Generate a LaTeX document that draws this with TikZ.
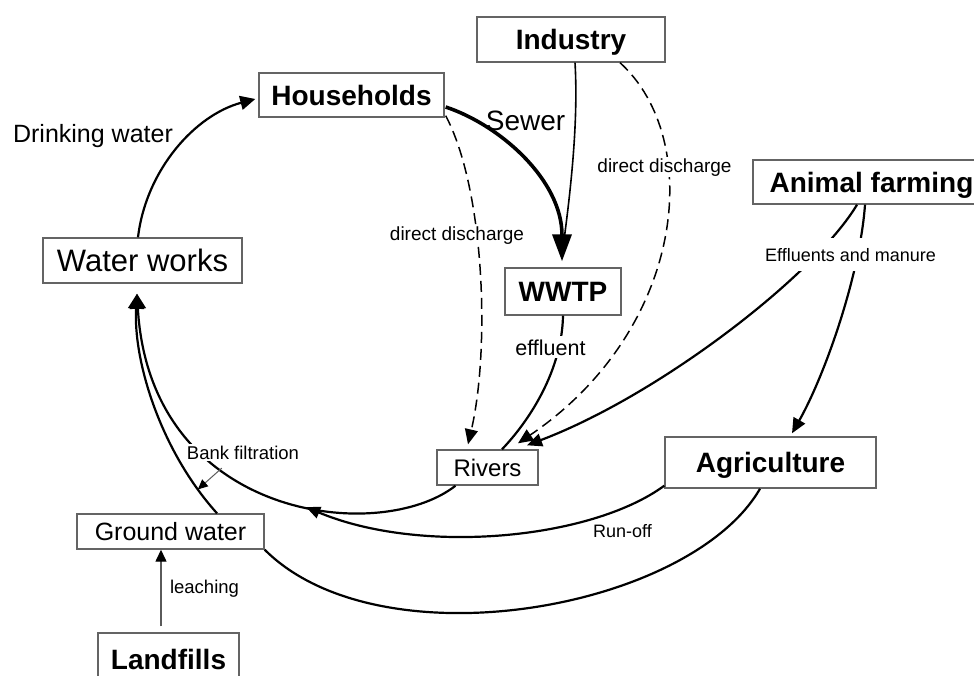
\documentclass[tikz,border=0pt]{standalone}
\usepackage{fontspec}
\setmainfont{Liberation Sans}
\usetikzlibrary{arrows.meta,calc}
\definecolor{boxgray}{RGB}{100,100,100}
\definecolor{leadgray}{RGB}{90,90,90}
\begin{document}
\begin{tikzpicture}[x=1pt,y=-1pt,
  box/.style={draw=boxgray,line width=1.4pt,inner sep=0pt,fill=white,text height=#1,text depth=0pt},
  bigb/.style={font=\fontsize{28}{32}\selectfont\bfseries},
  flow/.style={line width=2.2pt},
  dsh/.style={line width=1.5pt,dash pattern=on 11pt off 6pt},
  lbl/.style={anchor=base,inner sep=1.5pt},
  small/.style={font=\fontsize{18.5}{22}\selectfont},
  tipm/.style={-{Triangle[length=15pt,width=13pt]}},
]
\path[use as bounding box] (0,0) rectangle (974,675);
\clip (0,0) rectangle (974,675);

% boxes
\node[box=20pt,bigb,minimum width=185,minimum height=44] (hh) at (351.5,95) {Households};
\node[box=22.3pt,font=\fontsize{31}{36}\selectfont,minimum width=199,minimum height=45] (ww) at (142.5,260.5) {Water works};
\node[box=20pt,bigb,minimum width=188,minimum height=45] (ind) at (571,39.5) {Industry};
\node[box=20pt,bigb,minimum width=237,minimum height=44] (af) at (871.5,182) {Animal farming};
\node[box=20pt,bigb,minimum width=116,minimum height=47] (wwtp) at (563,291.5) {WWTP};
\node[box=17.3pt,font=\fontsize{24}{28}\selectfont,minimum width=101,minimum height=35] (rivers) at (487.5,467.5) {Rivers};
\node[box=20pt,bigb,minimum width=211,minimum height=51] (agri) at (770.5,462.5) {Agriculture};
\node[box=18pt,font=\fontsize{25}{30}\selectfont,minimum width=187,minimum height=35] (gw) at (170.5,531.5) {Ground water};
\node[box=20pt,bigb,minimum width=141,minimum height=52] (lf) at (168.5,659) {Landfills};

% drinking water
\draw[flow,-{Triangle[length=15pt,width=14pt]}] ($(ww.north)+(-4.5,0)$) .. controls (146,170) and (195,115) .. ($(hh.west)+(-3,4)$);
% sewer
\draw[line width=3.6pt,-{Triangle[length=27pt,width=19pt]}] ($(hh.east)+(1,12)$) .. controls (500,125) and (562,180) .. ($(wwtp.north)+(-1,-6)$);
% industry to wwtp
\draw[line width=1.6pt] ($(ind.south)+(4,0)$) .. controls (579,130) and (568,210) .. ($(wwtp.north)+(-1,-12)$);
% households direct discharge
\draw[dsh,tipm] ($(hh.south east)+(1,-2)$) .. controls (485,190) and (490,350) .. ($(rivers.north)+(-19.5,-5)$);
% industry direct discharge
\draw[dsh,tipm] ($(ind.south)+(49,0)$) .. controls (705,140) and (685,330) .. ($(rivers.north)+(30.5,-6)$);
% effluent
\draw[flow] (wwtp.south) .. controls (562,370) and (530,420) .. ($(rivers.north)+(14.5,0)$);
% animal farming to rivers
\draw[flow,tipm] ($(af.south)+(-14.5,0)$) .. controls (815,275) and (660,395) .. ($(rivers.north)+(39.5,-4)$);
% animal farming to agriculture
\draw[flow,tipm] ($(af.south)+(-6.5,0)$) .. controls (860,275) and (825,375) .. ($(agri.north)+(21.5,-3)$);
% rivers to water works
\draw[flow,-{Triangle[length=15pt,width=16pt]}] ($(rivers.south)+(-32,0)$) .. controls (380,545) and (150,520) .. ($(ww.south)+(-5.5,10)$)
  coordinate[pos=0.42] (rofftip) coordinate[pos=0.63] (bf1);
% ground water to water works
\draw[flow,-{Triangle[length=15pt,width=16pt]}] ($(gw.north)+(46.5,0)$) .. controls (160,450) and (133,360) .. ($(ww.south)+(-5.5,10)$)
  coordinate[pos=0.12] (bf2);
% run-off
\draw[flow,-{Triangle[length=14pt,width=12pt]}] ($(agri.south west)+(0,-3)$) .. controls (590,540) and (420,555) .. (rofftip);
% agriculture to ground water
\draw[flow] ($(agri.south)+(-10.5,0)$) .. controls (690,610) and (380,665) .. (gw.south east);
% leaching
\draw[draw=leadgray,line width=1.4pt,-{Triangle[length=12pt,width=11pt,color=black]}] ($(lf.north)+(-7.5,-6)$) -- ($(gw.south)+(-9.5,0)$);
% bank filtration leader
\draw[draw=leadgray,line width=1pt,-{Triangle[length=10pt,width=9pt,color=black]}] (bf1) -- (bf2);

% labels
\node[lbl,font=\fontsize{25}{30}\selectfont] (ldw) at (93,142) {Drinking water};
\node[lbl,font=\fontsize{28}{32}\selectfont] (lsew) at (525.5,130) {Sewer};
\node[lbl,font=\fontsize{19}{23}\selectfont,fill=white] (lddh) at (457,240) {direct discharge};
\node[lbl,font=\fontsize{19}{23}\selectfont,fill=white] (lddi) at (664.5,172) {direct discharge};
\node[lbl,font=\fontsize{18}{22}\selectfont,fill=white,inner ysep=10pt,inner xsep=2pt] (lem) at (850.5,261) {Effluents and manure};
\node[lbl,font=\fontsize{21.5}{26}\selectfont,fill=white,inner sep=3pt] (leff) at (550.5,355) {effluent};
\node[lbl,small,fill=white,inner sep=2pt] (lbf) at (243,459) {Bank filtration};
\node[lbl,font=\fontsize{18}{22}\selectfont] (lro) at (622.5,537) {Run-off};
\node[lbl,small] (lle) at (204.5,593) {leaching};
\end{tikzpicture}
\end{document}
